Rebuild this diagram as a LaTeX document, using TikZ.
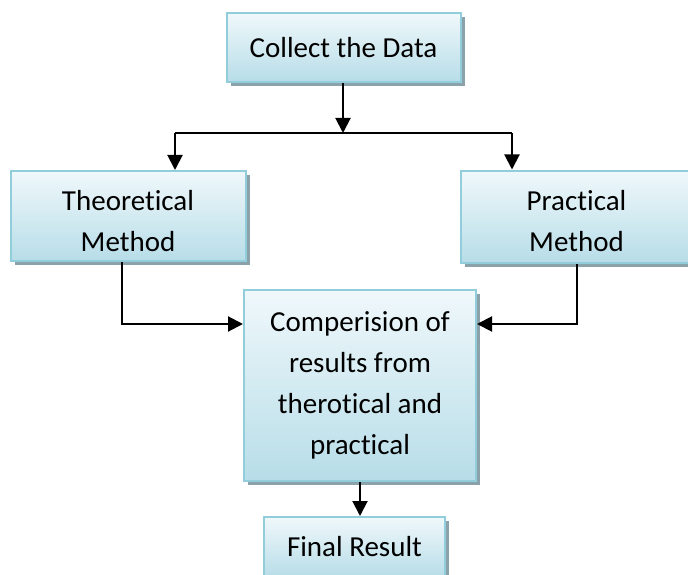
\documentclass[tikz,border=0pt]{standalone}
\usepackage{fontspec}
\setmainfont[Ligatures=NoCommon]{Carlito}
\usetikzlibrary{arrows.meta,shadows}
\definecolor{boxtop}{RGB}{240,248,251}
\definecolor{boxbot}{RGB}{183,221,232}
\definecolor{boxline}{RGB}{146,205,220}
\definecolor{shadowc}{RGB}{140,162,170}
\newcommand{\toppad}{\rule{0pt}{30pt}}
\tikzset{
  flowbox/.style={draw=boxline, line width=2pt, top color=boxtop, bottom color=boxbot,
    drop shadow={fill=shadowc, opacity=1, shadow xshift=4pt, shadow yshift=-4pt},
    align=center, inner sep=0pt,
    font=\fontsize{29}{41}\selectfont},
  arr/.style={line width=2pt, -{Triangle[width=15pt,length=15pt]}},
  plainline/.style={line width=2pt}
}
\begin{document}
\begin{tikzpicture}[x=1pt,y=-1pt]
\useasboundingbox (0,0) rectangle (688,575);
\clip (0,0) rectangle (688,575);
\node[flowbox, minimum width=234pt, minimum height=69pt] (collect) at (343.5,47.5) {Collect the Data};
\node[flowbox, minimum width=235pt, minimum height=90pt] (theo) at (128,216) {\toppad Theoretical\\Method};
\node[flowbox, minimum width=231pt, minimum height=92pt] (prac) at (576.5,216.5) {\toppad Practical\\Method};
\node[flowbox, minimum width=232pt, minimum height=191pt] (comp) at (360,385.5) {Comperision of\\results from\\therotical and\\practical};
\node[flowbox, minimum width=181pt, minimum height=60pt] (final) at (354.5,547) {Final Result};
\coordinate (bus) at (343,133);
\coordinate (bl) at (175,133);
\coordinate (br) at (512,133);
\coordinate (m1) at (122,324);
\coordinate (m2) at (577,324);
\draw[arr] (collect.south -| bus) -- (bus);
\draw[plainline] (bl) -- (br);
\draw[arr] (bl) -- (bl |- theo.north);
\draw[arr] (br) -- (br |- prac.north);
\draw[arr] (theo.south -| m1) |- (comp.west |- m1);
\draw[arr] (prac.south -| m2) |- (comp.east |- m2);
\draw[arr] (comp.south) -- (comp.south |- final.north);
\end{tikzpicture}
\end{document}
